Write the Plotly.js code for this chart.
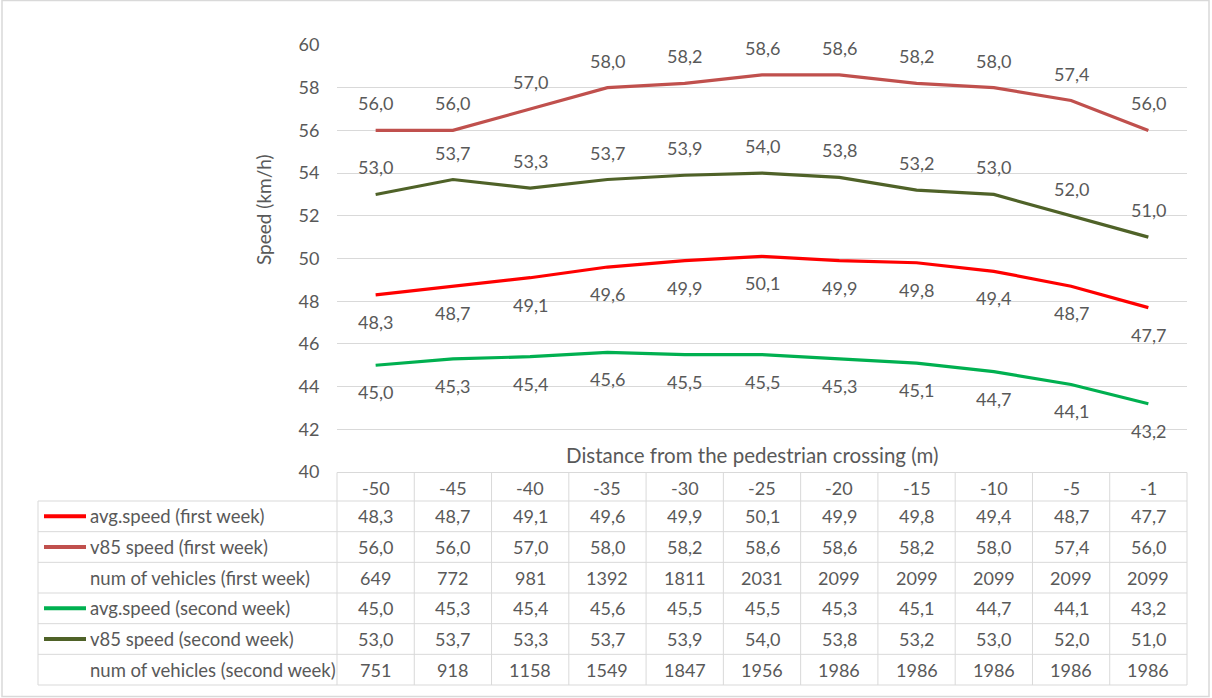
<!DOCTYPE html>
<html>
<head>
<meta charset="utf-8">
<script src="https://cdn.plot.ly/plotly-3.0.1.min.js"></script>
<style>
  html, body { margin: 0; padding: 0; background: #ffffff; }
  #chart { width: 1212px; height: 698px; }
</style>
</head>
<body>
<div id="chart"></div>
<script>
// ---- data ----
const categories = ['-50', '-45', '-40', '-35', '-30', '-25', '-20', '-15', '-10', '-5', '-1'];
const avgFirst   = [48.3, 48.7, 49.1, 49.6, 49.9, 50.1, 49.9, 49.8, 49.4, 48.7, 47.7];
const v85First   = [56.0, 56.0, 57.0, 58.0, 58.2, 58.6, 58.6, 58.2, 58.0, 57.4, 56.0];
const vehFirst   = [649, 772, 981, 1392, 1811, 2031, 2099, 2099, 2099, 2099, 2099];
const avgSecond  = [45.0, 45.3, 45.4, 45.6, 45.5, 45.5, 45.3, 45.1, 44.7, 44.1, 43.2];
const v85Second  = [53.0, 53.7, 53.3, 53.7, 53.9, 54.0, 53.8, 53.2, 53.0, 52.0, 51.0];
const vehSecond  = [751, 918, 1158, 1549, 1847, 1956, 1986, 1986, 1986, 1986, 1986];

const seriesNames = [
  'avg.speed (first week)',
  'v85 speed (first week)',
  'num of vehicles (first week)',
  'avg.speed (second week)',
  'v85 speed (second week)',
  'num of vehicles (second week)'
];
const xTitle = 'Distance from the pedestrian crossing (m)';
const yTitle = 'Speed (km/h)';

// ---- styles ----
const FONT = 'Lato, "Open Sans", sans-serif';
const TXT = '#595959';
const GRID = '#d9d9d9';
const W = 1212, H = 698;
const PL = 337, PR = 1187, PT = 45, PB = 472;
const NUM_SIZE = 18, TEXT_SIZE = 18.5;

const rows = [
  { name: seriesNames[0], vals: avgFirst,  speed: true,  color: '#ff0000', labelPos: -1 },
  { name: seriesNames[1], vals: v85First,  speed: true,  color: '#c0504d', labelPos: 1 },
  { name: seriesNames[2], vals: vehFirst,  speed: false, color: null },
  { name: seriesNames[3], vals: avgSecond, speed: true,  color: '#00b050', labelPos: -1 },
  { name: seriesNames[4], vals: v85Second, speed: true,  color: '#4f6228', labelPos: 1 },
  { name: seriesNames[5], vals: vehSecond, speed: false, color: null }
];

const fmt = (v, speed) => speed ? v.toFixed(1).replace('.', ',') : String(v);
const px2x = p => (p - PL) / (PR - PL);
const px2y = p => (PB - p) / (PB - PT);

const traces = [];
const annotations = [];
const shapes = [];

// lines + data labels
[0, 1, 3, 4].forEach(ri => {
  const r = rows[ri];
  traces.push({
    type: 'scatter', mode: 'lines', name: r.name,
    x: categories, y: r.vals,
    line: { color: r.color, width: 3.2 },
    hoverinfo: 'x+y'
  });
  r.vals.forEach((v, i) => {
    annotations.push({
      xref: 'x', yref: 'y', x: i, y: v,
      xanchor: 'center', yanchor: 'middle',
      text: fmt(v, true), showarrow: false,
      yshift: 27 * r.labelPos,
      font: { family: FONT, size: NUM_SIZE, color: TXT }
    });
  });
});

// table geometry
const headerTop = 472.5, headerBot = 501;
const rowH = (685 - 501) / 6;
const legendLeft = 38;
const colW = (PR - PL) / categories.length;

const hline = (x0, x1, y) => shapes.push({
  type: 'line', xref: 'paper', yref: 'paper',
  x0: px2x(x0), x1: px2x(x1), y0: px2y(y), y1: px2y(y),
  line: { color: GRID, width: 1 }
});
const vline = (x, y0, y1) => shapes.push({
  type: 'line', xref: 'paper', yref: 'paper',
  x0: px2x(x), x1: px2x(x), y0: px2y(y0), y1: px2y(y1),
  line: { color: GRID, width: 1 }
});

hline(PL, PR, headerTop);
for (let k = 0; k <= rows.length; k++) hline(legendLeft, PR, headerBot + k * rowH);
vline(legendLeft, headerBot, 685);
for (let c = 0; c <= categories.length; c++) vline(PL + c * colW, headerTop, 685);

const cellText = (xpx, ypx, text, anchor, size) => annotations.push({
  xref: 'paper', yref: 'paper', x: px2x(xpx), y: px2y(ypx),
  xanchor: anchor, yanchor: 'middle',
  text: text, showarrow: false,
  font: { family: FONT, size: size, color: TXT }
});

// header
categories.forEach((c, i) => {
  cellText(PL + (i + 0.5) * colW, (headerTop + headerBot) / 2 + 1, c, 'center', NUM_SIZE);
});

// rows
rows.forEach((r, k) => {
  const cy = headerBot + (k + 0.5) * rowH;
  if (r.color) {
    shapes.push({
      type: 'line', xref: 'paper', yref: 'paper',
      x0: px2x(44), x1: px2x(86), y0: px2y(cy), y1: px2y(cy),
      line: { color: r.color, width: 4 }
    });
  }
  cellText(88, cy, r.name, 'left', TEXT_SIZE);
  r.vals.forEach((v, i) => {
    cellText(PL + (i + 0.5) * colW, cy, fmt(v, r.speed), 'center', NUM_SIZE);
  });
});

// axis titles
cellText(752, 455, xTitle, 'center', 20.5);
annotations.push({
  xref: 'paper', yref: 'paper', x: px2x(263), y: px2y(210),
  xanchor: 'center', yanchor: 'middle',
  text: yTitle, showarrow: false, textangle: -90,
  font: { family: FONT, size: 19, color: TXT }
});

// outer border
shapes.push({
  type: 'rect', xref: 'paper', yref: 'paper',
  x0: px2x(2), x1: px2x(1209), y0: px2y(696.5), y1: px2y(0.5),
  line: { color: GRID, width: 1.5 }, layer: 'below'
});

const layout = {
  width: W, height: H,
  margin: { l: PL, r: W - PR, t: PT, b: H - PB },
  paper_bgcolor: '#ffffff', plot_bgcolor: '#ffffff',
  showlegend: false,
  xaxis: {
    type: 'category', range: [-0.5, categories.length - 0.5],
    showticklabels: false, showgrid: false, zeroline: false, showline: false, ticks: ''
  },
  yaxis: {
    range: [40, 60], dtick: 2, tick0: 40,
    showgrid: true, gridcolor: GRID, gridwidth: 1,
    zeroline: false, showline: false,
    ticks: 'outside', ticklen: 13, tickcolor: 'rgba(0,0,0,0)',
    tickfont: { family: FONT, size: NUM_SIZE, color: TXT }
  },
  annotations: annotations,
  shapes: shapes
};

Plotly.newPlot('chart', traces, layout, { displayModeBar: false, staticPlot: true });
</script>
</body>
</html>
